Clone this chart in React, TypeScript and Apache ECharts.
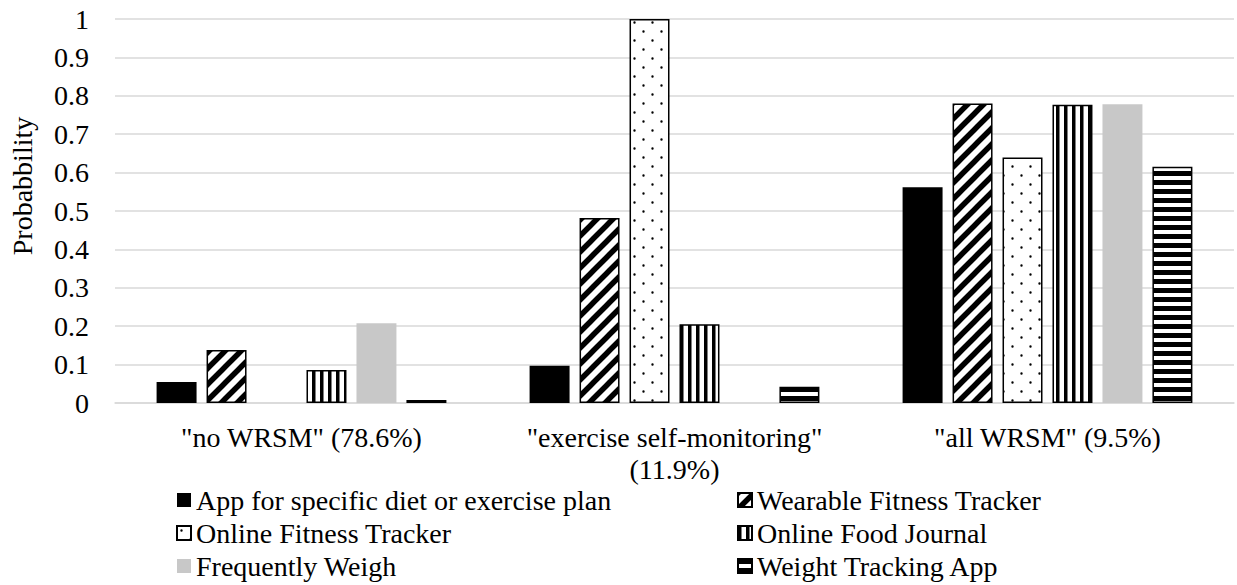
import React, { useEffect, useRef } from "react";
import * as echarts from "echarts";

const categories = ['"no WRSM" (78.6%)', '"exercise self-monitoring"\n(11.9%)', '"all WRSM" (9.5%)'];
const seriesNames = [
  "App for specific diet or exercise plan",
  "Wearable Fitness Tracker",
  "Online Fitness Tracker",
  "Online Food Journal",
  "Frequently Weigh",
  "Weight Tracking App",
];
const appPlan = [0.055, 0.097, 0.562];
const wearable = [0.138, 0.482, 0.78];
const onlineFitness = [0, 1.0, 0.639];
const foodJournal = [0.086, 0.205, 0.777];
const frequentlyWeigh = [0.208, 0, 0.778];
const weightApp = [0.008, 0.042, 0.615];
const yTicks = ["0", "0.1", "0.2", "0.3", "0.4", "0.5", "0.6", "0.7", "0.8", "0.9", "1"];

const FONT = "Liberation Serif";
const FS = 28;

function makePattern(w: number, h: number, draw: (ctx: CanvasRenderingContext2D) => void) {
  const c = document.createElement("canvas");
  c.width = w;
  c.height = h;
  const ctx = c.getContext("2d") as CanvasRenderingContext2D;
  ctx.fillStyle = "#fff";
  ctx.fillRect(0, 0, w, h);
  ctx.fillStyle = "#000";
  ctx.strokeStyle = "#000";
  draw(ctx);
  return { image: c, repeat: "repeat", imageWidth: w, imageHeight: h } as any;
}

export default function App() {
  const ref = useRef<HTMLDivElement>(null);
  useEffect(() => {
    if (!ref.current) return;
    const chart = echarts.init(ref.current, null, { renderer: "svg" });

    const diag = makePattern(16, 16, (ctx) => {
      ctx.lineWidth = 5.5;
      ctx.beginPath();
      ctx.moveTo(-3, 3); ctx.lineTo(3, -3);
      ctx.moveTo(-3, 19); ctx.lineTo(19, -3);
      ctx.moveTo(13, 19); ctx.lineTo(19, 13);
      ctx.stroke();
    });
    const dots = makePattern(18, 18, (ctx) => {
      ctx.beginPath();
      ctx.arc(4.5, 4.5, 1.2, 0, Math.PI * 2);
      ctx.arc(13.5, 13.5, 1.2, 0, Math.PI * 2);
      ctx.fill();
    });
    const vert = makePattern(8, 8, (ctx) => {
      ctx.fillRect(0, 0, 3.5, 8);
    });
    const horiz = makePattern(9, 9, (ctx) => {
      ctx.fillRect(0, 0, 9, 5);
    });

    const border = { borderColor: "#000", borderWidth: 1.5 };
    const seriesData = [appPlan, wearable, onlineFitness, foodJournal, frequentlyWeigh, weightApp];
    const styles: any[] = [
      { color: "#000" },
      { color: diag, ...border },
      { color: dots, ...border },
      { color: vert, ...border },
      { color: "#c8c8c8" },
      { color: horiz, ...border },
    ];

    const series = seriesNames.map((name, i) => ({
      name,
      type: "bar",
      data: seriesData[i].map((v) => (v === 0 ? { value: v, itemStyle: { borderWidth: 0, opacity: 0 } } : v)),
      itemStyle: styles[i],
      barGap: "25%",
      barCategoryGap: "22.3%",
    }));

    const legendBase = {
      orient: "vertical",
      icon: "rect",
      itemWidth: 14,
      itemHeight: 14,
      itemGap: 5,
      padding: 0,
      height: 100,
      textStyle: { fontFamily: FONT, fontSize: FS, color: "#000", lineHeight: 28 },
    };

    chart.setOption({
      animation: false,
      grid: { left: 115, right: 3, top: 19, bottom: 182, containLabel: false },
      legend: [
        { ...legendBase, left: 176, top: 486, data: [seriesNames[0], seriesNames[2], seriesNames[4]] },
        { ...legendBase, left: 737, top: 486, data: [seriesNames[1], seriesNames[3], seriesNames[5]] },
      ],
      xAxis: {
        type: "category",
        data: categories,
        axisLine: { show: true, lineStyle: { color: "#d9d9d9", width: 1.5 } },
        axisTick: { show: false },
        axisLabel: {
          fontFamily: FONT,
          fontSize: FS,
          color: "#000",
          margin: 18,
          lineHeight: 32,
          interval: 0,
        },
      },
      yAxis: {
        type: "value",
        min: 0,
        max: 1,
        interval: 0.1,
        axisLine: { show: false },
        axisTick: { show: false },
        splitLine: { lineStyle: { color: "#d9d9d9", width: 1.5 } },
        axisLabel: {
          fontFamily: FONT,
          fontSize: FS,
          color: "#000",
          margin: 26,
          formatter: (v: number) => yTicks[Math.round(v * 10)],
        },
      },
      graphic: [
        {
          type: "text",
          x: 22,
          y: 186,
          rotation: Math.PI / 2,
          style: {
            text: "Probabbility",
            fontFamily: FONT,
            fontSize: FS,
            fill: "#000",
            align: "center",
            verticalAlign: "middle",
          },
        },
      ],
      series,
    });
    return () => chart.dispose();
  }, []);
  return <div ref={ref} style={{ width: 1237, height: 585, position: "absolute", left: 0, top: 0, background: "#fff" }} />;
}
